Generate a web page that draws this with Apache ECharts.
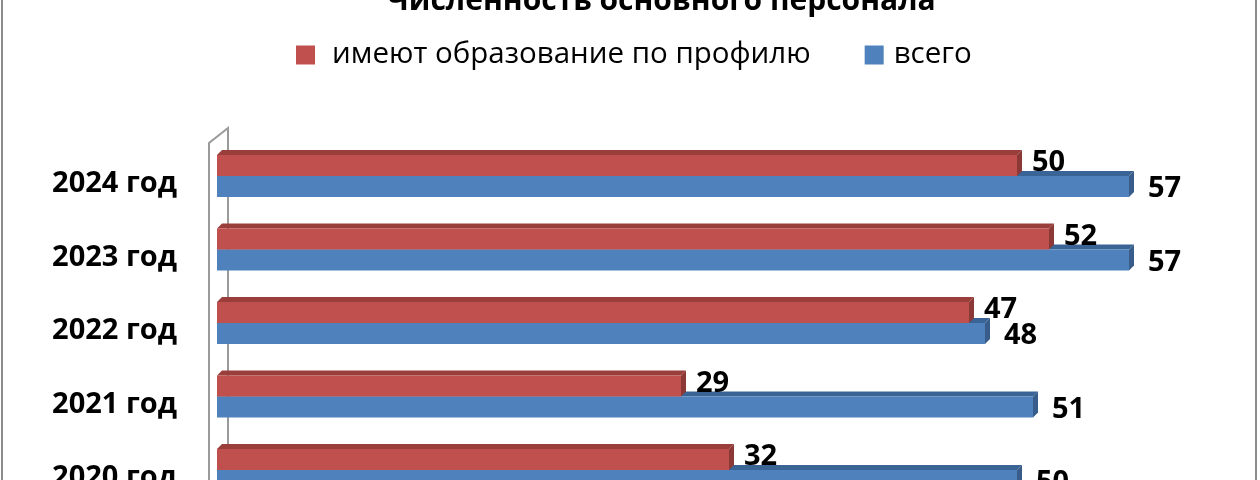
<!DOCTYPE html>
<html>
<head>
<meta charset="utf-8">
<script src="https://cdn.jsdelivr.net/npm/echarts@6/dist/echarts.min.js"></script>
<style>
  html, body { margin: 0; padding: 0; background: #fff; }
  #chart { width: 1260px; height: 480px; }
</style>
</head>
<body>
<div id="chart"></div>
<script>
var years = ['2024 год', '2023 год', '2022 год', '2021 год', '2020 год'];
var profile = [50, 52, 47, 29, 32];
var total = [57, 57, 48, 51, 50];
var name_profile = 'имеют образование по профилю';
var name_total = 'всего';

var myChart = echarts.init(document.getElementById('chart'));
var font = '"Open Sans", sans-serif';

// 3d bar: front rect + top face + side face, label at the end
function bar3d(front, top, side, place, labelDx, labelDy) {
	return function (params, api) {
		var v = api.value(0);
		var c = api.value(1);
		var p0 = api.coord([0, c]);
		var p1 = api.coord([v, c]);
		var band = api.size([0, 1])[1];
		var h = band * 0.286;
		var d = 5;
		var y = place < 0 ? p0[1] - h : p0[1];
		var x0 = p0[0], x1 = p1[0];
		return {
			type: 'group',
			children: [
				{ type: 'polygon', shape: { points: [[x0, y], [x0 + d, y - d], [x1 + d, y - d], [x1, y]] }, style: { fill: top } },
				{ type: 'polygon', shape: { points: [[x1, y], [x1 + d, y - d], [x1 + d, y + h - d], [x1, y + h]] }, style: { fill: side } },
				{ type: 'rect', shape: { x: x0, y: y, width: x1 - x0, height: h }, style: { fill: front } },
				{ type: 'text', style: { text: String(v), x: x1 + labelDx, y: p0[1] + labelDy, fill: '#000',
					font: 'bold 29px ' + font, verticalAlign: 'middle', align: 'left' } }
			]
		};
	};
}

var option = {
	animation: false,
	title: {
		text: 'Численность основного персонала',
		left: 382,
		top: -19,
		textStyle: { fontFamily: font, fontSize: 30, fontWeight: 'bold', color: '#000' }
	},
	legend: {
		data: [
			{ name: name_profile, textStyle: { padding: [0, 0, 0, 12] } },
			{ name: name_total, textStyle: { padding: [0, 0, 0, 5] } }
		],
		top: 35,
		left: 291,
		icon: 'rect',
		itemWidth: 19,
		itemHeight: 19,
		itemGap: 54,
		textStyle: { fontFamily: font, fontSize: 29.5, color: '#000' }
	},
	grid: { left: 217, top: 176, width: 960, height: 294, containLabel: false, outerBoundsMode: 'none' },
	xAxis: {
		type: 'value', min: 0, max: 60,
		show: false,
		splitLine: { show: false }
	},
	yAxis: {
		type: 'category',
		data: years,
		inverse: true,
		boundaryGap: false,
		axisLine: { show: false },
		axisTick: { show: false },
		splitLine: { show: false },
		axisLabel: {
			margin: 40,
			formatter: function (value) { return '{a|' + value + '}'; },
			rich: {
				a: { fontFamily: font, fontSize: 29, fontWeight: 'bold', color: '#000', padding: [16, 0, 0, 0] }
			}
		}
	},
	graphic: [
		{ type: 'rect', z: 0, shape: { x: 2, y: -10, width: 1254, height: 500 },
			style: { fill: 'none', stroke: '#8c8c8c', lineWidth: 2 } },
		{ type: 'polyline', z: 0, shape: { points: [[209, 490], [209, 143], [228, 128], [228, 490]] },
			style: { fill: 'none', stroke: '#9a9a9a', lineWidth: 2 } }
	],
	series: [
		{
			name: name_total,
			type: 'custom',
			itemStyle: { color: '#4F81BD' },
			encode: { x: 0, y: 1 },
			clip: false,
			renderItem: bar3d('#4F81BD', '#3B6496', '#385D8A', 1, 19, 13),
			data: total.map(function (v, i) { return [v, i]; })
		},
		{
			name: name_profile,
			type: 'custom',
			itemStyle: { color: '#C0504D' },
			encode: { x: 0, y: 1 },
			clip: false,
			renderItem: bar3d('#C0504D', '#9A3E3B', '#8C3836', -1, 15, -13),
			data: profile.map(function (v, i) { return [v, i]; })
		}
	]
};

myChart.setOption(option);
</script>
</body>
</html>
